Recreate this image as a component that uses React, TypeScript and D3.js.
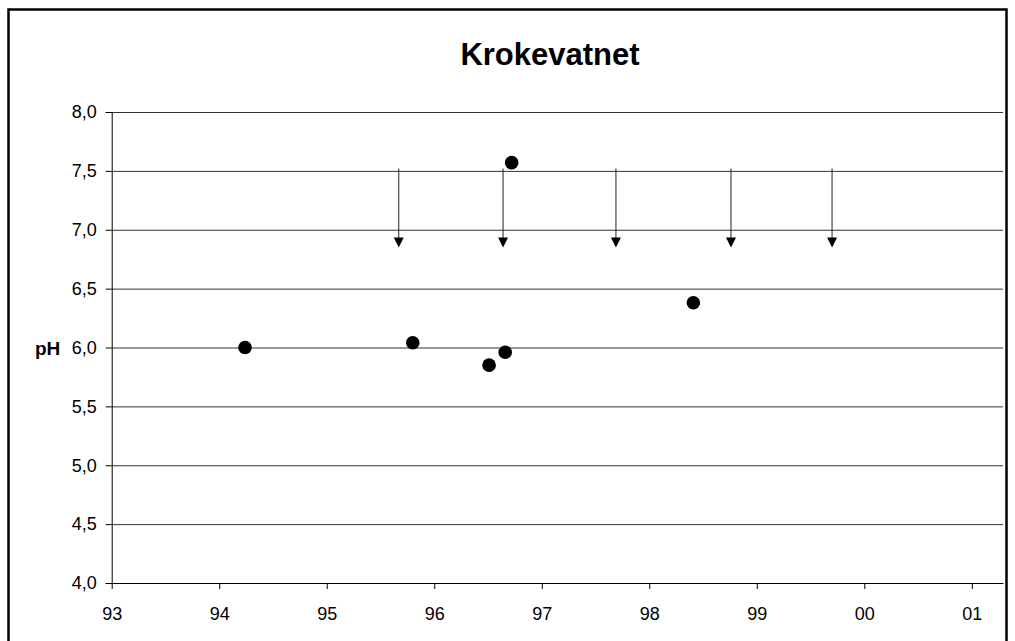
import React, { useEffect, useRef } from "react";
import * as d3 from "d3";

// measured points (year as 93..01, pH)
const pointYears = [94.24, 95.8, 96.51, 96.66, 96.72, 98.41];
const pointPH = [6.0, 6.04, 5.85, 5.96, 7.57, 6.38];

// "below" arrows
const arrowYears = [95.67, 96.64, 97.69, 98.76, 99.7];
const arrowFrom = [7.52, 7.52, 7.52, 7.52, 7.52];
const arrowTo = [6.85, 6.85, 6.85, 6.85, 6.85];

const xTicks = [93, 94, 95, 96, 97, 98, 99, 100, 101];
const yTicks = [4.0, 4.5, 5.0, 5.5, 6.0, 6.5, 7.0, 7.5, 8.0];

const App: React.FC = () => {
  const svgRef = useRef<SVGSVGElement | null>(null);

  useEffect(() => {
    const width = 1015;
    const height = 641;
    const margin = { top: 112, right: 12, bottom: 58, left: 111.7 };
    const font = "Arial, 'Liberation Sans', sans-serif";

    const svg = d3.select(svgRef.current);
    svg.selectAll("*").remove();
    svg.attr("width", width).attr("height", height);

    const x = d3
      .scaleLinear()
      .domain([93, 101.29])
      .range([margin.left, width - margin.right]);

    const y = d3
      .scaleLinear()
      .domain([4, 8])
      .range([height - margin.bottom, margin.top]);

    // outer frame
    svg
      .append("rect")
      .attr("x", 8.5)
      .attr("y", 9.5)
      .attr("width", 998)
      .attr("height", 660)
      .attr("fill", "white")
      .attr("stroke", "black")
      .attr("stroke-width", 2.5);

    // title
    svg
      .append("text")
      .attr("x", 550)
      .attr("y", 65)
      .attr("text-anchor", "middle")
      .attr("font-family", font)
      .attr("font-weight", "bold")
      .attr("font-size", "31px")
      .text("Krokevatnet");

    // gridlines
    svg
      .append("g")
      .attr("transform", `translate(${margin.left},0)`)
      .call(
        d3
          .axisLeft(y)
          .tickValues(yTicks)
          .tickSize(-(width - margin.left - margin.right))
          .tickFormat(() => "")
      )
      .call(g => g.select(".domain").remove())
      .call(g => g.selectAll("line").attr("stroke", "#333"));

    // Y axis
    svg
      .append("g")
      .attr("transform", `translate(${margin.left},0)`)
      .call(
        d3
          .axisLeft(y)
          .tickValues(yTicks)
          .tickSize(6)
          .tickPadding(9)
          .tickFormat(d => (+d).toFixed(1).replace(".", ","))
      )
      .call(g => g.select(".domain").attr("stroke", "black"))
      .call(g =>
        g.selectAll("text").attr("font-family", font).attr("font-size", "18px").attr("fill", "black")
      );

    // X axis
    svg
      .append("g")
      .attr("transform", `translate(0,${height - margin.bottom})`)
      .call(
        d3
          .axisBottom(x)
          .tickValues(xTicks)
          .tickSize(6)
          .tickSizeOuter(0)
          .tickPadding(18)
          .tickFormat(d => String(+d % 100).padStart(2, "0"))
      )
      .call(g => g.select(".domain").attr("stroke", "black"))
      .call(g =>
        g.selectAll("text").attr("font-family", font).attr("font-size", "18px").attr("fill", "black")
      );

    // pH label
    svg
      .append("text")
      .attr("x", 35)
      .attr("y", y(6) + 7)
      .attr("font-family", font)
      .attr("font-weight", "bold")
      .attr("font-size", "19px")
      .text("pH");

    // arrows
    const arrows = svg.append("g");
    arrowYears.forEach((yr, i) => {
      const ax = x(yr);
      const tip = y(arrowTo[i]);
      arrows
        .append("line")
        .attr("x1", ax)
        .attr("x2", ax)
        .attr("y1", y(arrowFrom[i]))
        .attr("y2", tip - 9)
        .attr("stroke", "#222")
        .attr("stroke-width", 1);
      arrows
        .append("path")
        .attr("d", `M${ax - 5},${tip - 10}L${ax + 5},${tip - 10}L${ax},${tip}Z`)
        .attr("fill", "black");
    });

    // points
    svg
      .append("g")
      .selectAll("circle")
      .data(pointYears)
      .join("circle")
      .attr("cx", d => x(d))
      .attr("cy", (_, i) => y(pointPH[i]))
      .attr("r", 6.8)
      .attr("fill", "black");
  }, []);

  return <svg ref={svgRef} style={{ position: "absolute", left: 0, top: 0 }}></svg>;
};

export default App;
